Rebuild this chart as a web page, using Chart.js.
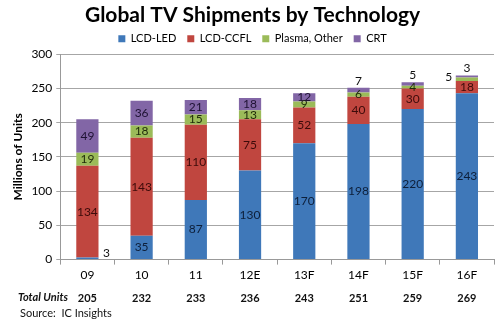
<!DOCTYPE html>
<html>
<head>
<meta charset="utf-8">
<script src="https://cdn.jsdelivr.net/npm/chart.js@4/dist/chart.umd.min.js"></script>
<style>
html,body{margin:0;padding:0;background:#fff;}
#wrap{width:500px;height:327px;position:relative;}
</style>
</head>
<body>
<div id="wrap"><canvas id="c" width="500" height="327"></canvas></div>
<script>
const categories = ["09","10","11","12E","13F","14F","15F","16F"];
const lcdLed   = [3, 35, 87, 130, 170, 198, 220, 243];
const lcdCcfl  = [134, 143, 110, 75, 52, 40, 30, 18];
const plasma   = [19, 18, 15, 13, 9, 6, 4, 5];
const crt      = [49, 36, 21, 18, 12, 7, 5, 3];
const totals   = [205, 232, 233, 236, 243, 251, 259, 269];
const yTicks   = [0, 50, 100, 150, 200, 250, 300];

const FONT = "Lato, 'Open Sans', sans-serif";

// label placement exceptions: "datasetIndex-pointIndex" -> side
const labelPlacement = {"0-0":"right","3-5":"above","3-6":"above","3-7":"above","2-7":"left"};
const labelColors = ["#0d1f3a","#3d0b0a","#1f2a0a","#1e1233"];

const labelPlugin = {
  id:'segLabels',
  afterDatasetsDraw(chart){
    const ctx = chart.ctx;
    ctx.save();
    ctx.font = "12px " + FONT;
    ctx.textAlign = 'center';
    ctx.textBaseline = 'middle';
    chart.data.datasets.forEach((ds, di) => {
      const meta = chart.getDatasetMeta(di);
      meta.data.forEach((el, i) => {
        const v = ds.data[i];
        const p = labelPlacement[di + "-" + i];
        let x = el.x, y = (el.y + el.base) / 2;
        const hw = el.width / 2;
        ctx.fillStyle = labelColors[di];
        if (p === 'right') { x = el.x + hw + 8; y = el.base - 6; ctx.fillStyle = '#111'; }
        else if (p === 'left') { x = el.x - hw - 7; y = y - 2; ctx.fillStyle = '#111'; }
        else if (p === 'above') { y = el.y - 7; ctx.fillStyle = '#111'; }
        ctx.fillText(String(v), x, y);
      });
    });
    // totals row
    const xs = chart.scales.x;
    ctx.font = "bold 11px " + FONT;
    ctx.fillStyle = '#111';
    totals.forEach((t, i) => {
      ctx.fillText(String(t), xs.getPixelForValue(i), 298);
    });
    ctx.textAlign = 'left';
    ctx.font = "italic bold 11px " + FONT;
    ctx.fillText("Total Units", 18, 297);
    ctx.font = "11px " + FONT;
    ctx.fillText("Source:  IC Insights", 20, 313);
    ctx.restore();
  }
};

new Chart(document.getElementById('c'), {
  type: 'bar',
  data: {
    labels: categories,
    datasets: [
      {label:'LCD-LED', data: lcdLed, backgroundColor:'#3f78b9'},
      {label:'LCD-CCFL', data: lcdCcfl, backgroundColor:'#c0463f'},
      {label:'Plasma, Other', data: plasma, backgroundColor:'#9bbb59'},
      {label:'CRT', data: crt, backgroundColor:'#8266a6'}
    ]
  },
  options: {
    responsive:false,
    animation:false,
    devicePixelRatio:1,
    layout:{padding:{left:11,right:6,top:0,bottom:42}},
    datasets:{bar:{categoryPercentage:1.0, barPercentage:0.41, borderWidth:0}},
    plugins:{
      title:{display:true, text:'Global TV Shipments by Technology', color:'#000',
        font:{family:FONT, size:21, weight:'bold'}, padding:{top:3,bottom:-6}},
      legend:{display:true, position:'top',
        labels:{boxWidth:7, boxHeight:7, color:'#000', padding:11, font:{family:FONT,size:11}}},
      tooltip:{enabled:false}
    },
    scales:{
      x:{stacked:true,
        grid:{display:true, drawOnChartArea:false, drawTicks:true, tickLength:5, color:'#999', offset:true},
        border:{display:true,color:'#999'},
        ticks:{color:'#000', font:{family:FONT,size:12}, padding:3}
      },
      y:{stacked:true, min:0, max:300,
        afterBuildTicks(s){ s.ticks = yTicks.map(v=>({value:v})); },
        grid:{color:'#a6a6a6', drawTicks:true, tickLength:4},
        border:{display:true,color:'#999'},
        ticks:{color:'#000', font:{family:FONT,size:12}, padding:4},
        title:{display:true, text:'Millions of Units', color:'#000', font:{family:FONT,size:12,weight:'bold'}, padding:{top:0,bottom:2}}
      }
    }
  },
  plugins:[labelPlugin]
});
</script>
</body>
</html>
